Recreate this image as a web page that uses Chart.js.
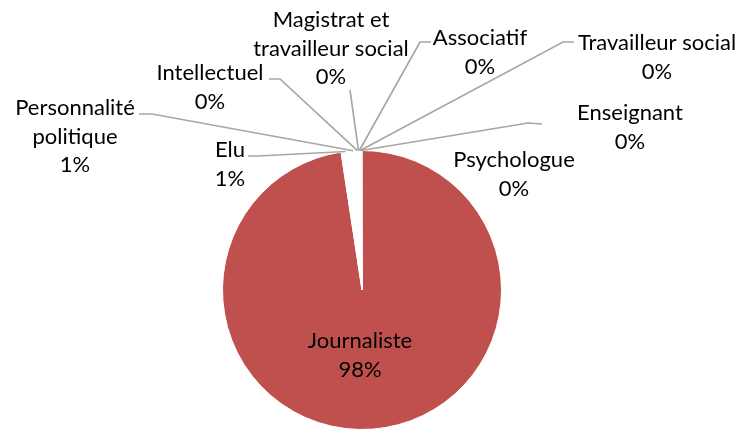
<!DOCTYPE html>
<html>
<head>
<meta charset="utf-8">
<script src="https://cdn.jsdelivr.net/npm/chart.js@4.4.0/dist/chart.umd.min.js"></script>
<style>
  html, body { margin: 0; padding: 0; background: #fff; }
  #wrap { width: 741px; height: 430px; }
</style>
</head>
<body>
<div id="wrap"><canvas id="myChart" width="741" height="430"></canvas></div>
<script>
// Categories and their shares (percent)
const categories = ['Journaliste', 'Elu', 'Personnalité politique', 'Intellectuel',
    'Magistrat et travailleur social', 'Associatif', 'Travailleur social', 'Enseignant', 'Psychologue'];
const shares = [97.6, 1.0, 0.8, 0.15, 0.1, 0.1, 0.1, 0.1, 0.05];
const sliceColors = ['#C0504D', '#FFFFFF', '#FFFFFF', '#FFFFFF', '#FFFFFF', '#FFFFFF', '#FFFFFF', '#FFFFFF', '#FFFFFF'];

// Where each data label sits: text centre x, first baseline y, wrapped lines,
// leader start and elbow (null when no leader line is drawn)
const labelLayout = [
    { x: 360, y: 348, lines: ['Journaliste'], leader: null },
    { x: 230, y: 157, lines: ['Elu'], leader: [248, 156, 258, 156] },
    { x: 75, y: 115, lines: ['Personnalité', 'politique'], leader: [139, 114, 152, 114] },
    { x: 210, y: 80, lines: ['Intellectuel'], leader: [269, 79, 280, 79] },
    { x: 331, y: 27, lines: ['Magistrat et', 'travailleur social'], leader: [350, 90, 350, 90] },
    { x: 480, y: 45, lines: ['Associatif'], leader: [431, 42, 420, 42] },
    { x: 657, y: 50, lines: ['Travailleur social'], leader: [574, 42, 563, 42] },
    { x: 630, y: 120, lines: ['Enseignant'], leader: [542, 124, 528, 123] },
    { x: 514, y: 167, lines: ['Psychologue'], leader: null }
];

const FONT = '22px Lato, "Open Sans", sans-serif';
const LINE_GAP = 28.5;

const pieLabels = {
    id: 'pieLabels',
    afterDatasetsDraw(chart) {
        const ctx = chart.ctx;
        const meta = chart.getDatasetMeta(0);
        const data = chart.data.datasets[0].data;
        const total = data.reduce((a, b) => a + b, 0);
        ctx.save();
        ctx.font = FONT;
        ctx.textAlign = 'center';
        ctx.textBaseline = 'alphabetic';
        meta.data.forEach((arc, i) => {
            const lay = labelLayout[i];
            const p = arc.getProps(['x', 'y', 'startAngle', 'endAngle', 'outerRadius'], true);
            if (lay.leader) {
                const mid = (p.startAngle + p.endAngle) / 2;
                const ax = p.x + Math.cos(mid) * p.outerRadius;
                const ay = p.y + Math.sin(mid) * p.outerRadius;
                ctx.strokeStyle = '#A6A6A6';
                ctx.lineWidth = 1.7;
                ctx.beginPath();
                ctx.moveTo(lay.leader[0], lay.leader[1]);
                ctx.lineTo(lay.leader[2], lay.leader[3]);
                ctx.lineTo(ax, ay);
                ctx.stroke();
            }
            const pct = Math.round(data[i] / total * 100) + '%';
            const lines = lay.lines.concat([pct]);
            ctx.fillStyle = '#000';
            lines.forEach((t, k) => ctx.fillText(t, lay.x, lay.y + k * LINE_GAP));
        });
        ctx.restore();
    }
};

const ctx = document.getElementById('myChart').getContext('2d');
const myChart = new Chart(ctx, {
    type: 'pie',
    data: {
        labels: categories,
        datasets: [{
            data: shares,
            backgroundColor: sliceColors,
            borderColor: '#FFFFFF',
            borderWidth: 1
        }]
    },
    options: {
        responsive: false,
        animation: false,
        layout: { padding: { top: 150, bottom: 0, left: 222, right: 239 } },
        plugins: {
            legend: { display: false },
            tooltip: { enabled: false }
        }
    },
    plugins: [pieLabels]
});
</script>
</body>
</html>
